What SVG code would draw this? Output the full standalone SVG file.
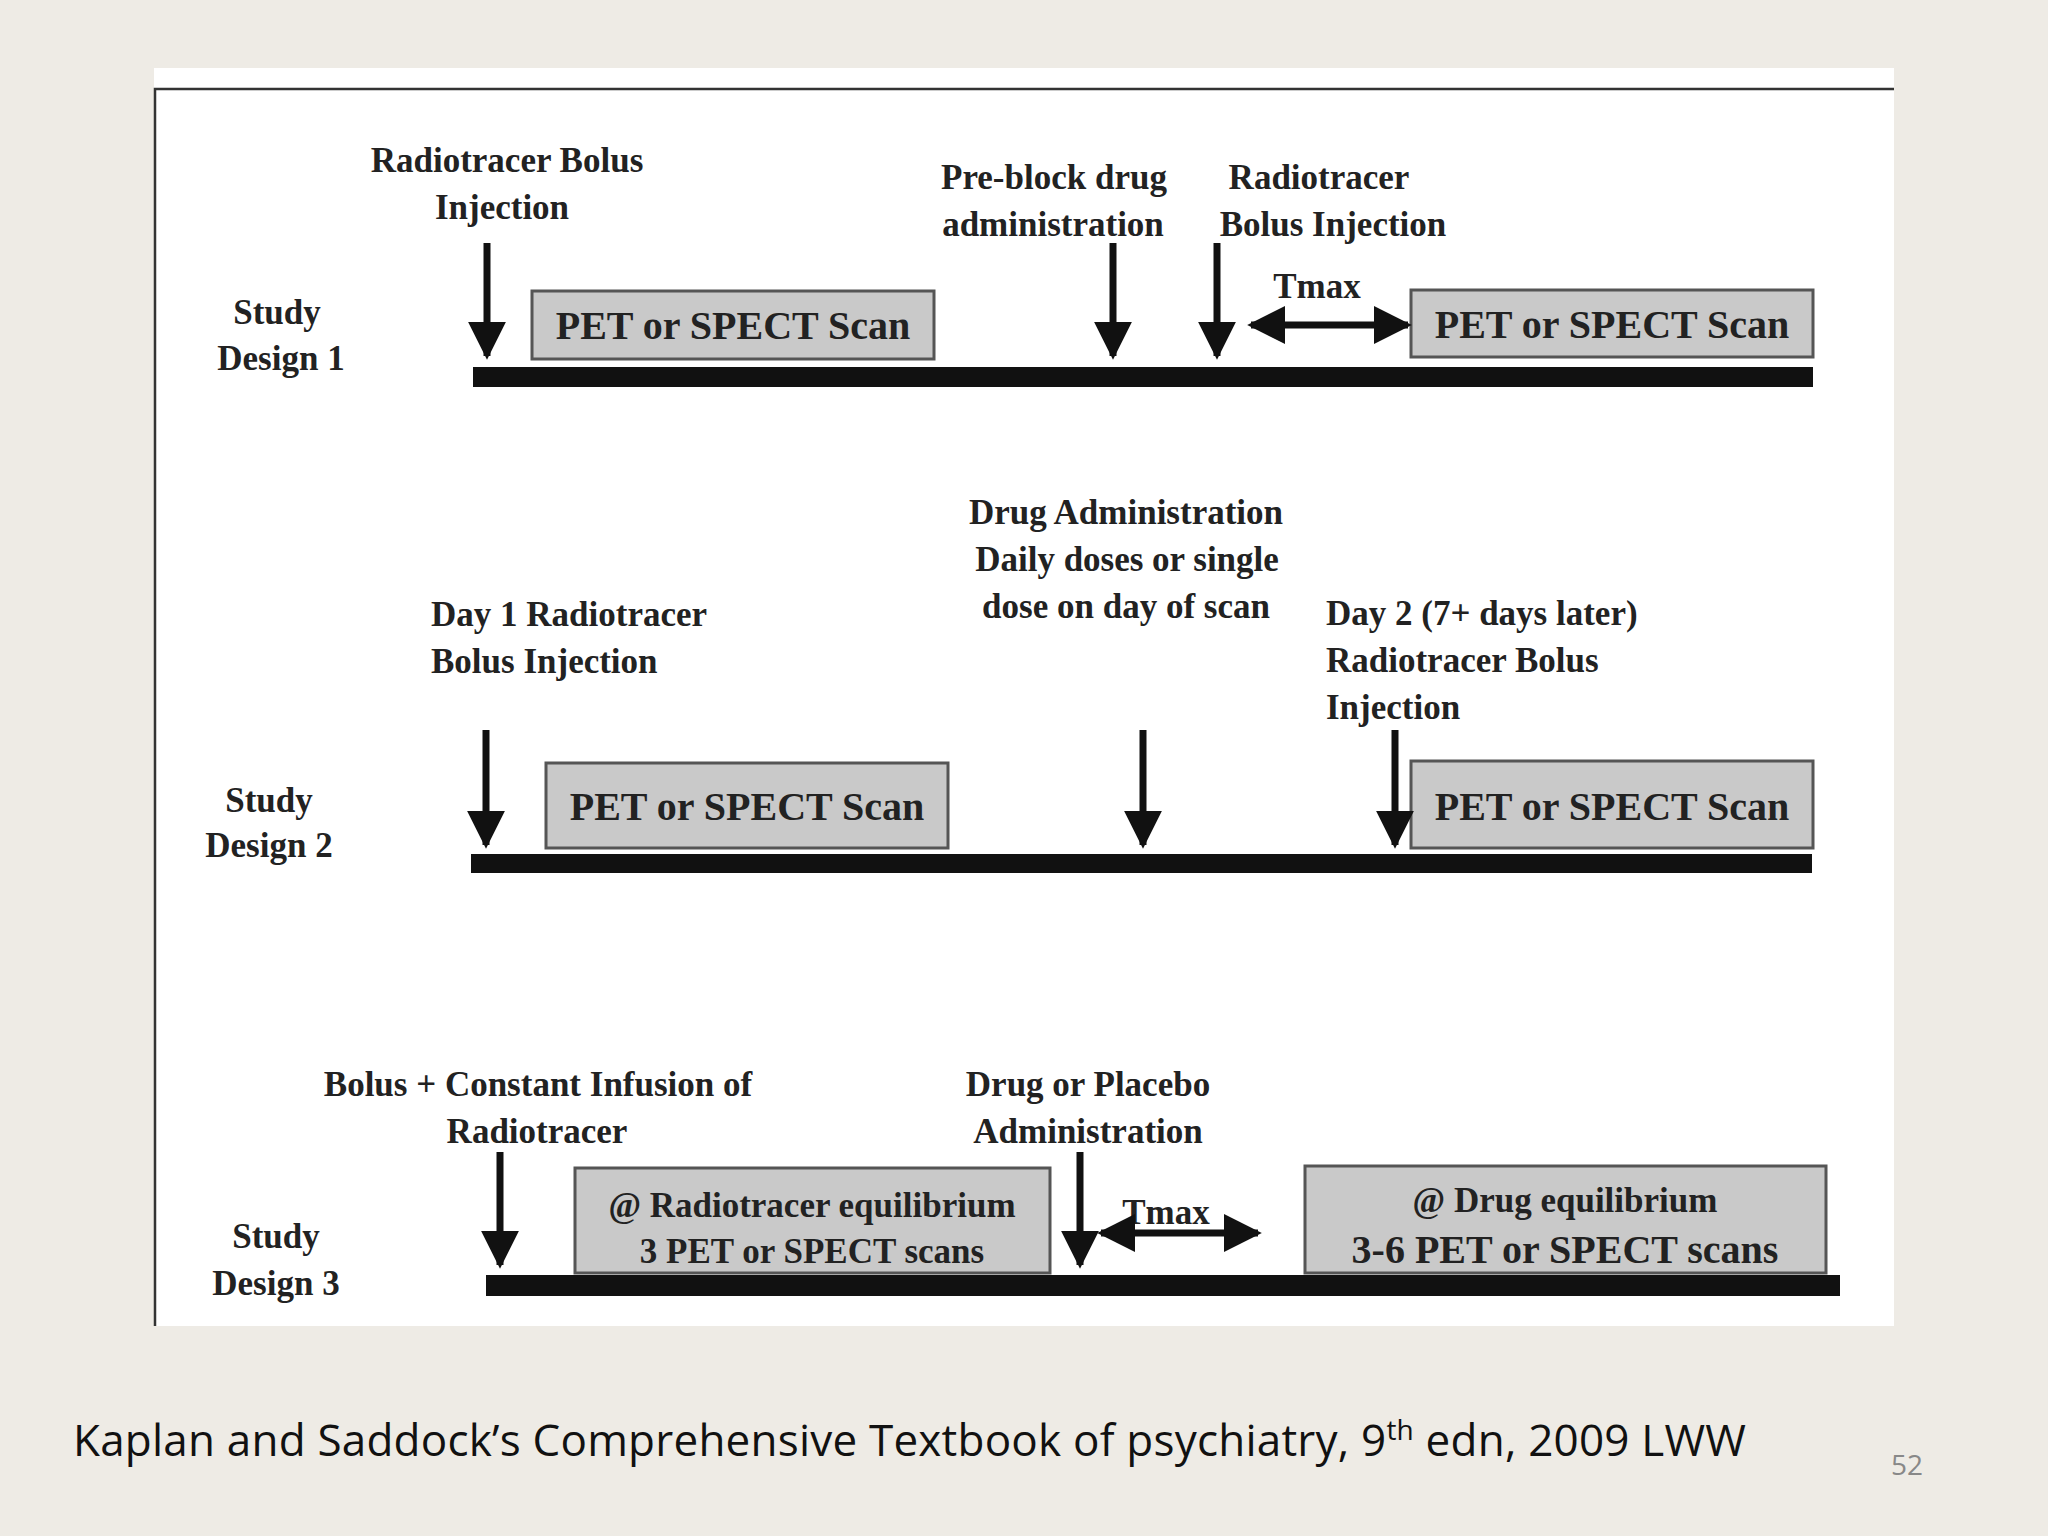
<svg xmlns="http://www.w3.org/2000/svg" width="2048" height="1536" viewBox="0 0 2048 1536">
<style>
.t{font-family:"Liberation Serif",serif;font-weight:bold;font-size:35px;fill:#222}
.b{font-family:"Liberation Serif",serif;font-weight:bold;font-size:40px;fill:#222}
.box{fill:#c9c9c9;stroke:#555;stroke-width:3}
.bar{fill:#111}
.ar{stroke:#111;stroke-width:7;fill:none}
</style>
<defs>
<marker id="h" viewBox="0 0 10 10" refX="9" refY="5" markerWidth="38" markerHeight="38" markerUnits="userSpaceOnUse" orient="auto-start-reverse"><path d="M0,0 L10,5 L0,10 Z" fill="#111"/></marker>
</defs>
<rect width="2048" height="1536" fill="#eeebe5"/>
<rect x="154" y="68" width="1740" height="1258" fill="#fff"/>
<path d="M155,1326 V89 H1894" stroke="#333" stroke-width="2.5" fill="none"/>
<g id="timelines">
<rect class="bar" x="473" y="367" width="1340" height="20"/>
<rect class="bar" x="471" y="854" width="1341" height="19"/>
<rect class="bar" x="486" y="1275" width="1354" height="21"/>
</g>
<g id="d1-box1"><rect class="box" x="532" y="291" width="402" height="68"/><text class="b" x="733" y="339" text-anchor="middle">PET or SPECT Scan</text></g>
<g id="d1-box2"><rect class="box" x="1411" y="290" width="402" height="67"/><text class="b" x="1612" y="338" text-anchor="middle">PET or SPECT Scan</text></g>
<g id="d2-box1"><rect class="box" x="546" y="763" width="402" height="85"/><text class="b" x="747" y="820" text-anchor="middle">PET or SPECT Scan</text></g>
<g id="d2-box2"><rect class="box" x="1411" y="761" width="402" height="87"/><text class="b" x="1612" y="820" text-anchor="middle">PET or SPECT Scan</text></g>
<g id="d3-box1"><rect class="box" x="575" y="1168" width="475" height="105"/><text class="t" x="812" y="1217" text-anchor="middle">@ Radiotracer equilibrium</text><text class="t" x="812" y="1263" text-anchor="middle">3 PET or SPECT scans</text></g>
<g id="d3-box2"><rect class="box" x="1305" y="1166" width="521" height="107"/><text class="t" x="1565" y="1212" text-anchor="middle">@ Drug equilibrium</text><text class="b" x="1565" y="1263" text-anchor="middle" font-size="37">3-6 PET or SPECT scans</text></g>
<g id="labels">
<text class="t" x="507" y="172" text-anchor="middle">Radiotracer Bolus</text>
<text class="t" x="502" y="219" text-anchor="middle">Injection</text>
<text class="t" x="1054" y="189" text-anchor="middle">Pre-block drug</text>
<text class="t" x="1053" y="236" text-anchor="middle">administration</text>
<text class="t" x="1319" y="189" text-anchor="middle">Radiotracer</text>
<text class="t" x="1333" y="236" text-anchor="middle">Bolus Injection</text>
<text class="t" x="1317" y="298" text-anchor="middle" font-size="26">Tmax</text>
<text class="t" x="277" y="324" text-anchor="middle">Study</text>
<text class="t" x="281" y="370" text-anchor="middle">Design 1</text>
<text class="t" x="431" y="626">Day 1 Radiotracer</text>
<text class="t" x="431" y="673">Bolus Injection</text>
<text class="t" x="1126" y="524" text-anchor="middle">Drug Administration</text>
<text class="t" x="1127" y="571" text-anchor="middle">Daily doses or single</text>
<text class="t" x="1126" y="618" text-anchor="middle">dose on day of scan</text>
<text class="t" x="1326" y="625">Day 2 (7+ days later)</text>
<text class="t" x="1326" y="672">Radiotracer Bolus</text>
<text class="t" x="1326" y="719">Injection</text>
<text class="t" x="269" y="812" text-anchor="middle">Study</text>
<text class="t" x="269" y="857" text-anchor="middle">Design 2</text>
<text class="t" x="538" y="1096" text-anchor="middle">Bolus + Constant Infusion of</text>
<text class="t" x="537" y="1143" text-anchor="middle">Radiotracer</text>
<text class="t" x="1088" y="1096" text-anchor="middle">Drug or Placebo</text>
<text class="t" x="1088" y="1143" text-anchor="middle">Administration</text>
<text class="t" x="1166" y="1224" text-anchor="middle" font-size="26">Tmax</text>
<text class="t" x="276" y="1248" text-anchor="middle">Study</text>
<text class="t" x="276" y="1295" text-anchor="middle">Design 3</text>
</g>
<g id="connectors">
<line class="ar" x1="487" y1="243" x2="487" y2="356" marker-end="url(#h)"/>
<line class="ar" x1="1113" y1="243" x2="1113" y2="356" marker-end="url(#h)"/>
<line class="ar" x1="1217" y1="243" x2="1217" y2="356" marker-end="url(#h)"/>
<line class="ar" x1="1251" y1="325" x2="1408" y2="325" marker-start="url(#h)" marker-end="url(#h)" stroke-width="6"/>
<line class="ar" x1="486" y1="730" x2="486" y2="845" marker-end="url(#h)"/>
<line class="ar" x1="1143" y1="730" x2="1143" y2="845" marker-end="url(#h)"/>
<line class="ar" x1="1395" y1="730" x2="1395" y2="845" marker-end="url(#h)"/>
<line class="ar" x1="500" y1="1152" x2="500" y2="1265" marker-end="url(#h)"/>
<line class="ar" x1="1080" y1="1152" x2="1080" y2="1265" marker-end="url(#h)"/>
<line class="ar" x1="1101" y1="1233" x2="1258" y2="1233" marker-start="url(#h)" marker-end="url(#h)" stroke-width="6"/>
</g>
<text x="73" y="1456" font-family="'Open Sans',sans-serif" font-size="44" fill="#111" textLength="1673">Kaplan and Saddock’s Comprehensive Textbook of psychiatry, 9<tspan font-size="28" dy="-16">th</tspan><tspan dy="16"> edn, 2009 LWW</tspan></text>
<text x="1907" y="1475" font-family="'Open Sans',sans-serif" font-size="28" fill="#888" text-anchor="middle">52</text>
</svg>
